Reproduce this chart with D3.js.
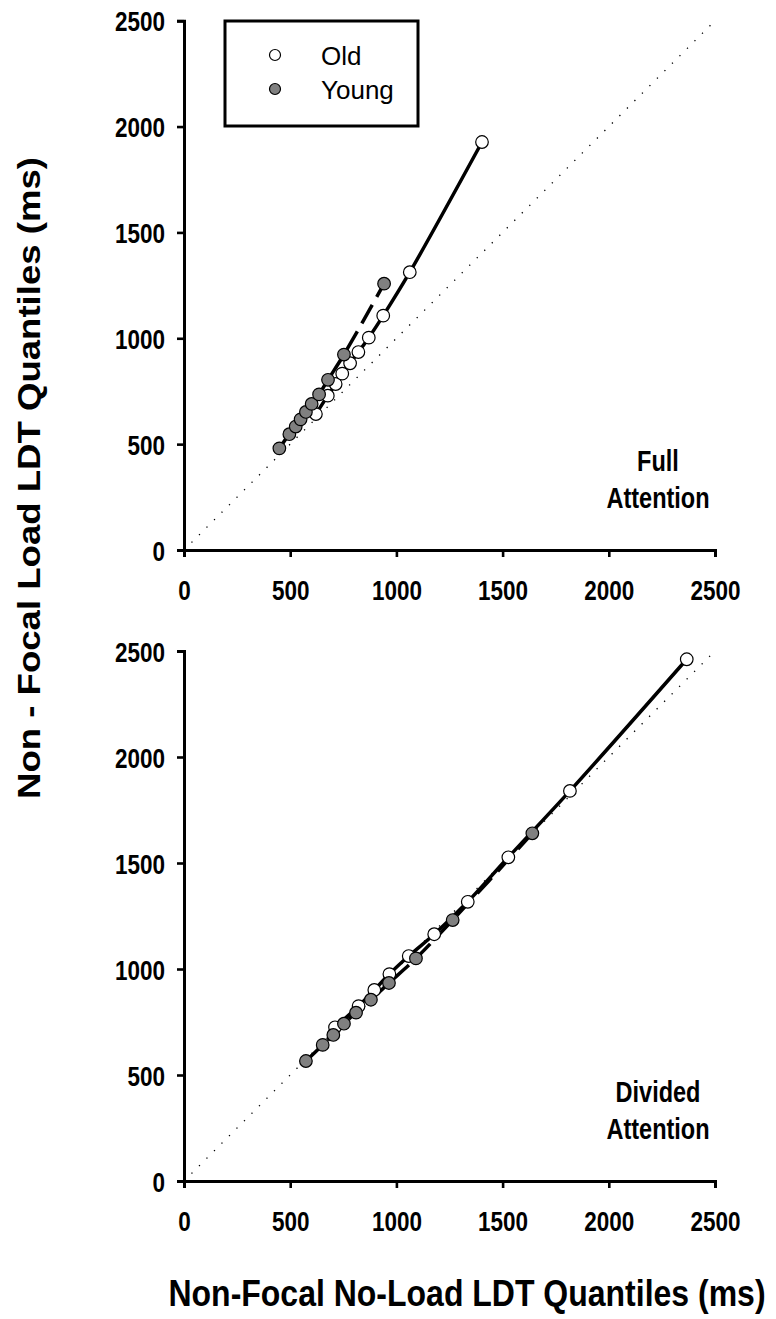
<!DOCTYPE html>
<html><head><meta charset="utf-8">
<script src="https://cdn.jsdelivr.net/npm/d3@7"></script>
<style>
body{margin:0;background:#fff}
svg{display:block}
text{font-family:"Liberation Sans",Arial,sans-serif}
</style>
</head><body>
<svg id="c" width="776" height="1319"></svg>
<script>
const tickValues = [0, 500, 1000, 1500, 2000, 2500];
const groups = ["Old", "Young"];
// Full attention panel
const fullOldX   = [621, 677, 714, 745, 782, 821, 870, 938, 1063, 1403];
const fullOldY   = [642, 729, 784, 833, 882, 935, 1003, 1107, 1312, 1927];
const fullYoungX = [449, 496, 526, 549, 574, 601, 636, 678, 753, 942];
const fullYoungY = [480, 547, 583, 617, 652, 690, 735, 804, 923, 1258];
// Divided attention panel
const divOldX    = [711, 822, 896, 967, 1058, 1178, 1336, 1527, 1817, 2367];
const divOldY    = [725, 825, 901, 976, 1061, 1164, 1317, 1527, 1840, 2461];
const divYoungX  = [574, 653, 703, 753, 810, 880, 965, 1092, 1265, 1640];
const divYoungY  = [566, 642, 689, 742, 794, 855, 934, 1050, 1231, 1640];
const panelLabels = [["Full", "Attention"], ["Divided", "Attention"]];
const xTitle = "Non-Focal No-Load LDT Quantiles (ms)";
const yTitle = "Non - Focal Load LDT Quantiles (ms)";

const SY = 1.25; // vertical glyph stretch seen in the reference
const svg = d3.select("#c");
const x = d3.scaleLinear().domain([0, 2500]).range([184, 715]);

const panels = [
  {y0: 550, y1: 20.7, old: [fullOldX, fullOldY], young: [fullYoungX, fullYoungY], label: panelLabels[0], legend: true},
  {y0: 1181, y1: 651, old: [divOldX, divOldY], young: [divYoungX, divYoungY], label: panelLabels[1], legend: false}
];

const zip = (xs, ys) => xs.map((v, i) => [v, ys[i]]);

panels.forEach(p => {
  const y = d3.scaleLinear().domain([0, 2500]).range([p.y0, p.y1]);
  const g = svg.append("g");

  // identity line
  g.append("line")
    .attr("x1", x(0)).attr("y1", y(0)).attr("x2", x(2500)).attr("y2", y(2500))
    .attr("stroke", "#000").attr("stroke-width", 1.3)
    .attr("stroke-dasharray", "1.3,9.3");

  const line = d3.line().x(d => x(d[0])).y(d => y(d[1])).curve(d3.curveCatmullRom.alpha(0.5));
  const oldPts = zip(p.old[0], p.old[1]);
  const youngPts = zip(p.young[0], p.young[1]);

  g.append("path").attr("d", line(oldPts)).attr("fill", "none")
    .attr("stroke", "#000").attr("stroke-width", 3.5);
  g.append("path").attr("d", line(youngPts)).attr("fill", "none")
    .attr("stroke", "#000").attr("stroke-width", 3.5).attr("stroke-dasharray", "21,9");

  g.selectAll("circle.o").data(oldPts).join("circle").attr("class", "o")
    .attr("cx", d => x(d[0])).attr("cy", d => y(d[1])).attr("r", 6.3)
    .attr("fill", "#fff").attr("stroke", "#000").attr("stroke-width", 1.2);
  g.selectAll("circle.y").data(youngPts).join("circle").attr("class", "y")
    .attr("cx", d => x(d[0])).attr("cy", d => y(d[1])).attr("r", 6.3)
    .attr("fill", "#808080").attr("stroke", "#000").attr("stroke-width", 1.2);

  // axes
  const ya = g.append("g").attr("transform", `translate(${x(0)},0)`)
    .call(d3.axisLeft(y).tickValues(tickValues).tickSize(7).tickPadding(18).tickFormat(d3.format("d")));
  const xa = g.append("g").attr("transform", `translate(0,${y(0)})`)
    .call(d3.axisBottom(x).tickValues(tickValues).tickSize(7).tickPadding(24).tickFormat(d3.format("d")));
  [ya, xa].forEach(a => {
    a.select(".domain").attr("stroke-width", 3).attr("stroke", "#000");
    a.selectAll(".tick line").attr("stroke-width", 2.6).attr("stroke", "#000");
    a.selectAll(".tick text").attr("font-size", 22.5).attr("font-weight", "bold")
      .attr("fill", "#000").style("font-family", '"Liberation Sans",Arial,sans-serif');
  });
  ya.selectAll(".tick text").attr("x", 0).attr("y", 0).attr("dy", "0.36em")
    .attr("transform", `translate(-19,0) scale(1,${SY})`);
  xa.selectAll(".tick text").attr("x", 0).attr("y", 0).attr("dy", "0.36em")
    .attr("transform", `translate(0,40) scale(1,${SY})`);

  // panel label
  p.label.forEach((t, i) => {
    g.append("text").attr("text-anchor", "middle").attr("font-size", 23.5).attr("font-weight", "bold")
      .attr("dy", "0.36em")
      .attr("transform", `translate(658,${y(0) - 90 + i * 37}) scale(1,${SY})`).text(t);
  });

  if (p.legend) {
    const lg = svg.append("g");
    lg.append("rect").attr("x", 225).attr("y", 21).attr("width", 193).attr("height", 105)
      .attr("fill", "#fff").attr("stroke", "#000").attr("stroke-width", 3);
    groups.forEach((name, i) => {
      const cy = 55 + i * 34;
      lg.append("circle").attr("cx", 275).attr("cy", cy).attr("r", 5.5)
        .attr("fill", i === 0 ? "#fff" : "#808080").attr("stroke", "#000").attr("stroke-width", 1.2);
      lg.append("text").attr("x", 321).attr("y", cy + 9.5).attr("font-size", 26).text(name);
    });
  }
});

svg.append("text").attr("text-anchor", "middle").attr("dy", "0.36em")
  .attr("transform", `translate(467,1293) scale(1,1.15)`)
  .attr("font-size", 32).attr("font-weight", "bold").text(xTitle);
svg.append("text").attr("transform", "translate(40,478) rotate(-90) scale(1.18,1)").attr("text-anchor", "middle")
  .attr("font-size", 31).attr("font-weight", "bold").text(yTitle);
</script>
</body></html>
